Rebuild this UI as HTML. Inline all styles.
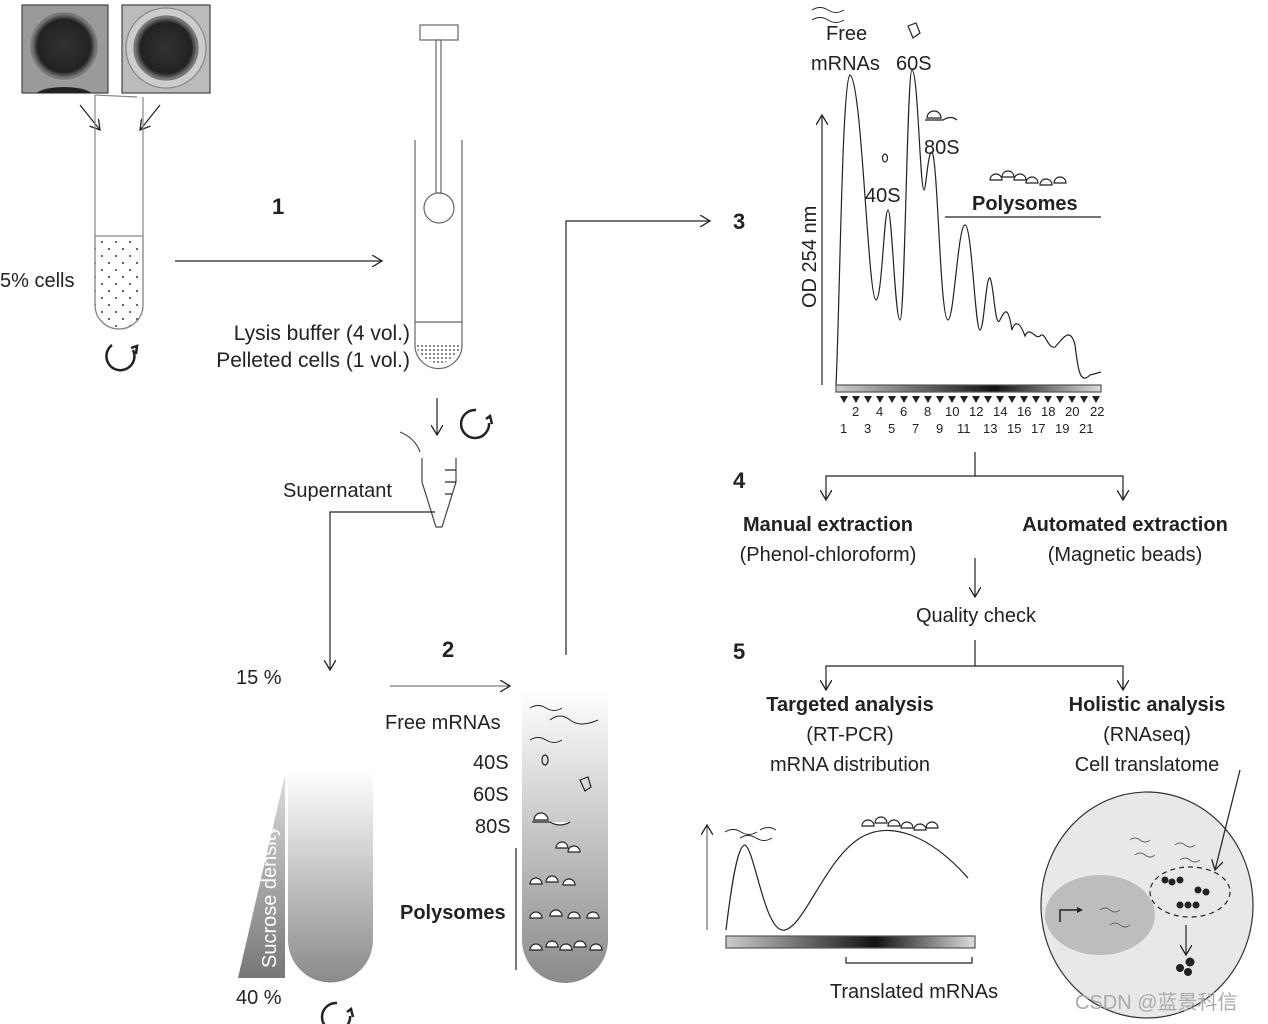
<!DOCTYPE html>
<html><head><meta charset="utf-8"><style>
html,body{margin:0;padding:0;background:#fff}
svg{display:block}
text{font-family:"Liberation Sans","Noto Sans CJK SC",sans-serif;fill:#222}
</style></head><body>
<svg width="1268" height="1024" viewBox="0 0 1268 1024" xmlns="http://www.w3.org/2000/svg">
<defs>
<marker id="a" markerWidth="12" markerHeight="12" refX="10" refY="6" orient="auto" markerUnits="userSpaceOnUse"><path d="M0,0 L10,6 L0,12" fill="none" stroke="#222" stroke-width="1.3"/></marker>
<marker id="t" markerWidth="6" markerHeight="6" refX="3" refY="3" orient="auto" markerUnits="userSpaceOnUse"><path d="M0,0 L6,3 L0,6z" fill="#222"/></marker>
<linearGradient id="g1" x1="0" y1="0" x2="0" y2="1"><stop offset="0" stop-color="#fff"/><stop offset="1" stop-color="#8a8a8a"/></linearGradient>
<linearGradient id="g2" x1="0" y1="0" x2="1" y2="0"><stop offset="0" stop-color="#ccc"/><stop offset="0.6" stop-color="#111"/><stop offset="1" stop-color="#ddd"/></linearGradient>
<linearGradient id="g3" x1="0" y1="0" x2="0" y2="1"><stop offset="0" stop-color="#ddd"/><stop offset="1" stop-color="#777"/></linearGradient>
<radialGradient id="c1"><stop offset="0" stop-color="#333"/><stop offset="0.8" stop-color="#222"/><stop offset="1" stop-color="#888"/></radialGradient>
<pattern id="dots" width="14" height="14" patternUnits="userSpaceOnUse"><circle cx="4" cy="4" r="1" fill="#333"/><circle cx="11" cy="11" r="1" fill="#333"/></pattern>
<pattern id="dd" width="4" height="4" patternUnits="userSpaceOnUse"><circle cx="2" cy="2" r="0.9" fill="#333"/></pattern>
<clipPath id="p1"><rect x="22" y="5" width="86" height="88"/></clipPath>
</defs>
<g stroke="#222" fill="none" stroke-width="1.2">
<rect x="22" y="5" width="86" height="88" fill="#9a9a9a" stroke="#444"/>
<circle cx="64" cy="46" r="33" fill="url(#c1)" stroke="#777"/>
<ellipse cx="64" cy="97" rx="30" ry="10" fill="#222" stroke="none" clip-path="url(#p1)"/>
<rect x="122" y="5" width="88" height="88" fill="#bbb" stroke="#444"/>
<circle cx="166" cy="48" r="40" fill="#ccc" stroke="#888"/>
<circle cx="166" cy="48" r="32" fill="url(#c1)" stroke="#777"/>
<line x1="80" y1="105" x2="100" y2="130" marker-end="url(#a)"/>
<line x1="160" y1="105" x2="140" y2="130" marker-end="url(#a)"/>
<path d="M95,95 L95,305 A24,24 0 0 0 143,305 L143,97" stroke="#888"/>
<line x1="95" y1="95" x2="137" y2="97" stroke="#888"/>
<path d="M95,236 L143,236 L143,305 A24,24 0 0 1 95,305 Z" fill="url(#dots)" stroke="#888"/>
<path d="M133,350 A14,14 0 1 1 112,345" stroke-width="2.5"/>
<path d="M131,348 l6,-2 l-1,8" stroke-width="2.5"/>
<line x1="175" y1="261" x2="382" y2="261" marker-end="url(#a)"/>
<rect x="420" y="25" width="38" height="15" stroke="#666"/>
<rect x="436" y="40" width="5" height="153" stroke="#666"/>
<circle cx="439" cy="208" r="15" stroke="#666"/>
<path d="M415,140 L415,345 A23,23 0 0 0 462,345 L462,140" stroke="#666"/>
<line x1="415" y1="322" x2="462" y2="322" stroke="#666"/>
<path d="M416,345 A23,23 0 0 0 461,345 L455,345 Z" fill="url(#dd)" stroke="none"/>
<line x1="437" y1="398" x2="437" y2="435" marker-end="url(#a)"/>
<path d="M489,423 A14,14 0 1 1 476,410" stroke-width="2.5"/>
<path d="M486,419 l4,-3 l2,8" stroke-width="2.5"/>
<path d="M422,458 L422,482 L436,527 L442,527 L456,482 L456,458" stroke="#444"/>
<path d="M400,432 Q415,438 420,452" stroke="#444"/>
<line x1="445" y1="470" x2="456" y2="470"/><line x1="445" y1="482" x2="456" y2="482"/><line x1="445" y1="494" x2="452" y2="494"/>
<polyline points="435,512 330,512 330,670" marker-end="url(#a)"/>
<polygon points="285,775 285,978 238,978" fill="url(#g3)" stroke="none"/>
<path d="M288,770 L288,940 A42,42 0 0 0 373,940 L373,770 Z" fill="url(#g1)" stroke="none"/>
<path d="M350,1016 A14,14 0 1 1 337,1003" stroke-width="2.5"/>
<path d="M347,1012 l4,-3 l2,8" stroke-width="2.5"/>
<line x1="390" y1="686" x2="510" y2="686" stroke-width="0.8" marker-end="url(#a)"/>
<path d="M522,690 L522,940 A43,43 0 0 0 608,940 L608,690 Z" fill="url(#g1)" stroke="none"/>
<path d="M530,708 q8,-5 16,0 t16,0 M550,720 q10,-8 20,0 t28,0 M530,740 q8,-5 16,0 t16,0" stroke-width="1"/>
<ellipse cx="545" cy="760" rx="3" ry="5"/>
<path d="M580,780 l8,-3 l3,10 l-6,4z"/>
<line x1="516" y1="848" x2="516" y2="970"/>
<g fill="#fff" stroke-width="1.2">
<path d="M534,820 a7,7 0 0 1 14,0z"/><path d="M532,822 h18"/><path d="M550,822 q10,6 20,0"/>
<path d="M556,848 a6,6 0 0 1 12,0z M568,852 a6,6 0 0 1 12,0z"/>
<path d="M530,884 a6,6 0 0 1 12,0z M546,882 a6,6 0 0 1 12,0z M563,885 a6,6 0 0 1 12,0z"/>
<path d="M530,918 a6,6 0 0 1 12,0z M550,916 a6,6 0 0 1 12,0z M568,918 a6,6 0 0 1 12,0z M587,918 a6,6 0 0 1 12,0z"/>
<path d="M530,950 a6,6 0 0 1 12,0z M546,947 a6,6 0 0 1 12,0z M560,950 a6,6 0 0 1 12,0z M574,947 a6,6 0 0 1 12,0z M590,950 a6,6 0 0 1 12,0z"/>
</g>
<polyline points="566,655 566,221 710,221" marker-end="url(#a)"/>
<line x1="822" y1="385" x2="822" y2="115" marker-end="url(#a)"/>
<path d="M836,385 C840,300 842,80 850,75 C862,80 868,300 876,300 C882,300 884,210 888,210 C892,210 895,320 900,320 C905,320 907,70 912,70 C918,70 920,190 924,190 C926,190 928,150 932,152 C938,160 940,320 948,320 C954,320 958,225 965,225 C972,225 975,330 980,330 C984,330 986,275 990,278 C994,285 995,330 1000,320 C1005,310 1008,305 1012,330 C1015,320 1020,322 1025,336 C1030,325 1035,340 1040,336 C1045,330 1048,350 1055,347 C1062,340 1070,325 1075,345 C1078,370 1080,385 1090,375 L1101,372"/>
<rect x="836" y="385" width="265" height="7" fill="url(#g2)" stroke="#555"/>
<line x1="945" y1="217" x2="1101" y2="217"/>
<path d="M812,10 q8,-5 16,0 t16,0 M812,20 q8,-5 16,0 t16,0" stroke-width="1"/>
<path d="M908,26 l8,-3 l4,10 l-7,5z"/>
<ellipse cx="885" cy="158" rx="2.5" ry="4"/>
<g fill="#fff"><path d="M927,118 a7,7 0 0 1 14,0z"/><path d="M925,120 h18 q8,-5 14,0"/>
<path d="M990,180 a6,6 0 0 1 12,0z M1002,177 a6,6 0 0 1 12,0z M1014,180 a6,6 0 0 1 12,0z M1026,183 a6,6 0 0 1 12,0z M1040,185 a6,6 0 0 1 12,0z M1054,183 a6,6 0 0 1 12,0z"/></g>
<polyline points="975,452 975,476"/>
<polyline points="826,500 826,476 1123,476 1123,500"/>
<line x1="826" y1="490" x2="826" y2="500" marker-end="url(#a)"/><line x1="1123" y1="490" x2="1123" y2="500" marker-end="url(#a)"/>
<line x1="975" y1="558" x2="975" y2="597" marker-end="url(#a)"/>
<polyline points="975,640 975,666"/>
<polyline points="826,690 826,666 1123,666 1123,690"/>
<line x1="826" y1="680" x2="826" y2="690" marker-end="url(#a)"/><line x1="1123" y1="680" x2="1123" y2="690" marker-end="url(#a)"/>
<line x1="707" y1="930" x2="707" y2="825" stroke-width="0.8" marker-end="url(#a)"/>
<path d="M726,930 C732,880 738,845 745,845 C755,850 765,935 785,930 C805,925 825,860 860,838 C890,820 930,835 968,878"/>
<rect x="726" y="936" width="249" height="12" fill="url(#g2)" stroke="#555"/>
<polyline points="846,957 846,963 972,963 972,957"/>
<path d="M725,832 q8,-5 16,0 t16,0 M740,838 q8,-5 16,0 t16,0 M760,830 q8,-5 16,0" stroke-width="1"/>
<g fill="#fff"><path d="M862,826 a6,6 0 0 1 12,0z M875,823 a6,6 0 0 1 12,0z M888,826 a6,6 0 0 1 12,0z M901,828 a6,6 0 0 1 12,0z M914,830 a6,6 0 0 1 12,0z M926,828 a6,6 0 0 1 12,0z"/></g>
<ellipse cx="1147" cy="905" rx="106" ry="113" fill="#e8e8e8" stroke="#333"/>
<ellipse cx="1100" cy="915" rx="55" ry="40" fill="#bdbdbd" stroke="none"/>
<ellipse cx="1190" cy="892" rx="40" ry="25" stroke-dasharray="5,4"/>
<path d="M1130,840 q5,-4 10,0 t10,0 M1175,845 q5,-4 10,0 t10,0 M1135,855 q5,-4 10,0 t10,0 M1180,860 q5,-4 10,0 t10,0 M1100,910 q5,-4 10,0 t10,0 M1110,925 q5,-4 10,0 t10,0" stroke="#666" stroke-width="1"/>
<polyline points="1060,922 1060,910 1080,910" marker-end="url(#t)" stroke-width="1.5"/>
<g fill="#222" stroke="none"><circle cx="1165" cy="880" r="3.5"/><circle cx="1172" cy="882" r="3.5"/><circle cx="1180" cy="880" r="3.5"/><circle cx="1198" cy="890" r="3.5"/><circle cx="1206" cy="892" r="3.5"/><circle cx="1180" cy="905" r="3.5"/><circle cx="1188" cy="905" r="3.5"/><circle cx="1196" cy="905" r="3.5"/><circle cx="1180" cy="968" r="4"/><circle cx="1190" cy="962" r="4.5"/><circle cx="1188" cy="972" r="4"/></g>
<line x1="1240" y1="770" x2="1215" y2="870" marker-end="url(#a)"/>
<line x1="1186" y1="925" x2="1186" y2="955" marker-end="url(#a)"/>
</g>
<g fill="#222" stroke="none">
<path d="M840,396 l8,0 l-4,7z M852,396 l8,0 l-4,7z M864,396 l8,0 l-4,7z M876,396 l8,0 l-4,7z M888,396 l8,0 l-4,7z M900,396 l8,0 l-4,7z M912,396 l8,0 l-4,7z M924,396 l8,0 l-4,7z M936,396 l8,0 l-4,7z M948,396 l8,0 l-4,7z M960,396 l8,0 l-4,7z M972,396 l8,0 l-4,7z M984,396 l8,0 l-4,7z M996,396 l8,0 l-4,7z M1008,396 l8,0 l-4,7z M1020,396 l8,0 l-4,7z M1032,396 l8,0 l-4,7z M1044,396 l8,0 l-4,7z M1056,396 l8,0 l-4,7z M1068,396 l8,0 l-4,7z M1080,396 l8,0 l-4,7z M1092,396 l8,0 l-4,7z"/>
</g>
<g font-size="20">
<text x="0" y="287">5% cells</text>
<text x="272" y="214" font-weight="bold" font-size="22">1</text>
<text x="410" y="340" text-anchor="end" font-size="21">Lysis buffer (4 vol.)</text>
<text x="410" y="367" text-anchor="end" font-size="21">Pelleted cells (1 vol.)</text>
<text x="283" y="497">Supernatant</text>
<text x="236" y="684">15 %</text>
<text x="236" y="1004">40 %</text>
<text transform="translate(276,968) rotate(-90)" style="fill:#fff">Sucrose density</text>
<text x="442" y="657" font-weight="bold" font-size="22">2</text>
<text x="385" y="729">Free mRNAs</text>
<text x="473" y="769">40S</text>
<text x="473" y="801">60S</text>
<text x="475" y="833">80S</text>
<text x="400" y="919" font-weight="bold">Polysomes</text>
<text x="733" y="229" font-weight="bold" font-size="22">3</text>
<text x="826" y="40">Free</text>
<text x="811" y="70">mRNAs</text>
<text x="896" y="70">60S</text>
<text x="924" y="154">80S</text>
<text x="865" y="202">40S</text>
<text x="972" y="210" font-weight="bold">Polysomes</text>
<text transform="translate(816,308) rotate(-90)">OD 254 nm</text>
<g font-size="13"><text x="852" y="416">2</text><text x="876" y="416">4</text><text x="900" y="416">6</text><text x="924" y="416">8</text><text x="945" y="416">10</text><text x="969" y="416">12</text><text x="993" y="416">14</text><text x="1017" y="416">16</text><text x="1041" y="416">18</text><text x="1065" y="416">20</text><text x="1090" y="416">22</text>
<text x="840" y="433">1</text><text x="864" y="433">3</text><text x="888" y="433">5</text><text x="912" y="433">7</text><text x="936" y="433">9</text><text x="957" y="433">11</text><text x="983" y="433">13</text><text x="1007" y="433">15</text><text x="1031" y="433">17</text><text x="1055" y="433">19</text><text x="1079" y="433">21</text></g>
<text x="733" y="488" font-weight="bold" font-size="22">4</text>
<text x="828" y="531" text-anchor="middle" font-weight="bold">Manual extraction</text>
<text x="828" y="561" text-anchor="middle">(Phenol-chloroform)</text>
<text x="1125" y="531" text-anchor="middle" font-weight="bold">Automated extraction</text>
<text x="1125" y="561" text-anchor="middle">(Magnetic  beads)</text>
<text x="976" y="622" text-anchor="middle">Quality check</text>
<text x="733" y="659" font-weight="bold" font-size="22">5</text>
<text x="850" y="711" text-anchor="middle" font-weight="bold">Targeted analysis</text>
<text x="850" y="741" text-anchor="middle">(RT-PCR)</text>
<text x="850" y="771" text-anchor="middle">mRNA distribution</text>
<text x="1147" y="711" text-anchor="middle" font-weight="bold">Holistic analysis</text>
<text x="1147" y="741" text-anchor="middle">(RNAseq)</text>
<text x="1147" y="771" text-anchor="middle">Cell translatome</text>
<text x="914" y="998" text-anchor="middle">Translated mRNAs</text>
<text x="1075" y="1009" style="fill:#aaa">CSDN @蓝景科信</text>
</g>
</svg>
</body></html>
